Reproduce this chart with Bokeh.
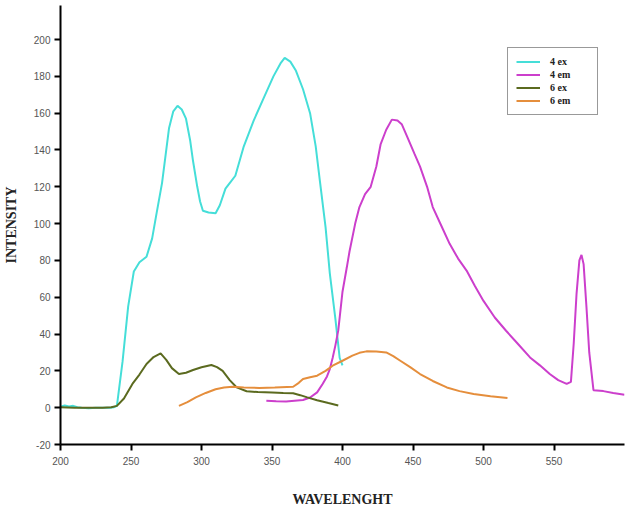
from bokeh.plotting import figure
from bokeh.models import FixedTicker, Range1d, Legend, LegendItem
from bokeh.embed import file_html
from bokeh.resources import INLINE

# 4 ex (cyan)
ex4_x = [200, 203, 206, 209, 212, 215, 220, 225, 230, 235, 238, 240, 244, 248, 252, 256, 261, 265,
         268, 272, 277, 280, 283, 286, 289, 292, 294, 297, 299, 301, 305, 310, 313, 317, 320, 324,
         330, 337, 344, 351, 356, 359, 363, 367, 372, 377, 381, 384, 388, 391, 395, 398, 400]
ex4_y = [0.5, 1.2, 0.6, 1.0, 0.3, 0.0, -0.3, 0.0, 0.0, 0.0, 0.3, 1, 25, 55, 74, 79, 82, 92,
         105, 122, 152, 161, 164, 162, 157, 145, 134, 120, 112, 107, 106, 105.6, 110, 119, 122, 126,
         142, 156, 168, 180, 187, 190, 188, 183, 173, 160, 142, 123, 98, 73, 48, 27, 23]

# 4 em (magenta)
em4_x = [346, 353, 360, 366, 372, 377, 382, 386, 389, 391, 393, 395, 397, 400, 403, 405, 409, 412,
         416, 420, 424, 427, 431, 435, 439, 442, 446, 451, 455, 460, 464, 470, 476, 482, 488, 494,
         500, 508, 516, 524, 533, 540, 547, 553, 559, 562, 564, 566, 568, 569.5, 571, 573, 575, 578,
         585, 592, 600]
em4_y = [3.8, 3.5, 3.4, 3.8, 4.2, 5.5, 8.3, 13, 17, 21, 27, 34, 42, 63, 76, 85, 100, 109,
         116, 120, 131, 143, 151, 156.5, 156, 154, 147, 138, 131, 120, 109, 99, 89, 81, 74.5, 66,
         58, 49, 41.8, 35, 27.3, 23, 18.3, 15, 12.9, 14, 35, 62, 80, 83, 78, 55, 30, 9.5,
         9, 8, 7]

# 6 ex (olive)
ex6_x = [200, 210, 220, 230, 236, 240, 245, 251, 256, 261, 266, 271, 275, 279, 284, 289, 294, 300,
         307, 311, 315, 320, 325, 332, 340, 350, 358, 365, 370, 375, 382, 390, 397]
ex6_y = [0.2, 0.0, 0.0, 0.0, 0.2, 1, 5, 12.9, 18, 23.7, 27.5, 29.5, 26, 21.5, 18.3, 19, 20.5, 22,
         23.2, 22, 20, 15, 11, 8.9, 8.5, 8.3, 8.0, 7.8, 6.8, 5.6, 4.0, 2.5, 1.2]

# 6 em (orange)
em6_x = [284, 290, 296, 303, 310, 316, 322, 330, 341, 352, 365, 369, 372, 377, 382, 388, 393, 400,
         407, 412, 417, 424, 431, 436, 441, 448, 455, 464, 474, 483, 493, 505, 517]
em6_y = [1, 3, 5.6, 8, 10, 11, 11.4, 11, 10.7, 11, 11.4, 13.5, 15.6, 16.5, 17.4, 20, 22.8, 25.5,
         28.3, 29.8, 30.6, 30.5, 30, 28, 25.5, 22, 18.3, 14.5, 11, 9, 7.4, 6.2, 5.3]

x_ticks = [200, 250, 300, 350, 400, 450, 500, 550]
y_ticks = [-20, 0, 20, 40, 60, 80, 100, 120, 140, 160, 180, 200]

series_names = ["4 ex", "4 em", "6 ex", "6 em"]
colors = ["#45DED8", "#CC3FCC", "#5B6A1F", "#E58E3C"]

p = figure(width=634, height=514, output_backend="svg", toolbar_location=None,
           x_range=Range1d(200, 600), y_range=Range1d(-20, 218.5),
           min_border_left=10, min_border_right=10, min_border_top=5, min_border_bottom=70)
p.outline_line_color = None
p.xgrid.visible = False
p.ygrid.visible = False

renderers = []
for xs, ys, c in zip([ex4_x, em4_x, ex6_x, em6_x], [ex4_y, em4_y, ex6_y, em6_y], colors):
    renderers.append(p.line(xs, ys, line_color=c, line_width=2))

for ax in (p.xaxis[0], p.yaxis[0]):
    ax.axis_line_color = "black"
    ax.axis_line_width = 2
    ax.major_tick_line_color = "black"
    ax.major_tick_line_width = 2
    ax.major_tick_out = 6
    ax.major_tick_in = 0
    ax.minor_tick_line_color = None
    ax.major_label_text_font = "Liberation Sans"
    ax.major_label_text_font_size = "10px"
    ax.major_label_text_color = "#555555"
    ax.axis_label_text_font = "Liberation Serif"
    ax.axis_label_text_font_style = "bold"
    ax.axis_label_text_font_size = "14px"
    ax.axis_label_text_color = "#222222"

p.xaxis.ticker = FixedTicker(ticks=x_ticks)
p.yaxis.ticker = FixedTicker(ticks=y_ticks)
p.yaxis.major_label_overrides = {t: str(t) for t in y_ticks}
p.xaxis.axis_label = "WAVELENGHT"
p.yaxis.axis_label = "INTENSITY"
p.xaxis.axis_label_standoff = 24
p.yaxis.axis_label_standoff = 12
p.xaxis.major_label_standoff = 6
p.yaxis.major_label_standoff = 4

legend = Legend(items=[LegendItem(label=n, renderers=[r]) for n, r in zip(series_names, renderers)],
                location=(447, 329))
legend.border_line_color = "#333333"
legend.border_line_width = 1.5
legend.background_fill_color = "white"
legend.label_text_font = "Liberation Serif"
legend.label_text_font_style = "bold"
legend.label_text_font_size = "10px"
legend.label_text_color = "#222222"
legend.glyph_width = 24
legend.glyph_height = 11
legend.label_height = 11
legend.label_width = 39
legend.label_standoff = 10
legend.spacing = 2
legend.padding = 8
legend.margin = 0
p.add_layout(legend)

open("out.html", "w").write(file_html(p, INLINE))
